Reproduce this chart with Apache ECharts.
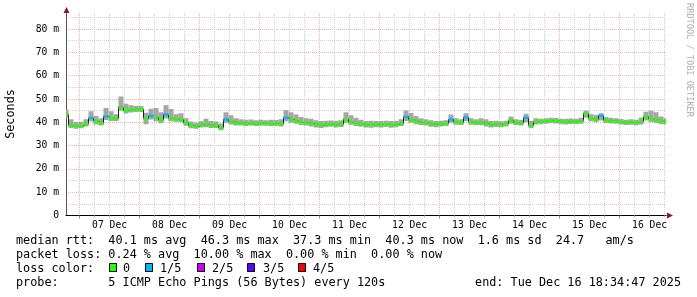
<!DOCTYPE html>
<html><head><meta charset="utf-8">
<script src="https://cdn.jsdelivr.net/npm/echarts@6/dist/echarts.min.js"></script>
<style>html,body{margin:0;padding:0;background:#fff}#c{width:697px;height:297px}</style>
</head><body><div id="c"></div>
<script>
// sample times: hours since Dec 6 00:00, one sample per 2 hours
const startHour = 18.58; // Dec 6 18:34:47
const stepHours = 2;
const medianRtt = [
43.4,38.6,38.4,38.5,39.3,41.8,40.4,39.6,42.5,41.8,41.6,46.4,45.0,45.3,45.5,45.6,41.5,42.7,42.2,41.0,
43.3,41.7,41.3,41.2,39.8,38.6,38.2,38.9,39.0,38.8,38.7,37.6,41.2,40.2,39.7,39.6,39.5,39.6,39.4,39.6,
39.5,39.4,39.5,39.3,42.0,41.2,40.6,40.0,39.8,39.5,39.1,38.8,39.0,39.2,39.0,39.1,41.3,40.0,39.6,39.2,
39.0,38.9,39.1,39.0,39.2,38.9,39.1,39.5,42.4,41.0,40.5,39.9,39.7,39.3,39.1,39.3,39.4,41.2,40.0,39.8,
42.1,40.0,39.8,39.9,39.5,39.0,39.2,39.0,39.3,40.8,39.9,39.6,42.0,38.6,40.2,40.3,40.4,40.7,40.6,40.3,
40.2,40.4,40.3,40.5,43.8,41.6,41.2,42.8,40.8,40.6,40.5,40.1,39.9,40.0,39.8,40.2,42.4,41.4,41.0,40.5,
40.3];
const smokeHigh = [
45.5,41.3,40.1,40.2,41.3,44.7,42.7,41.7,46.1,44.7,43.5,51.1,48.0,47.3,47.1,47.0,44.1,45.8,46.1,44.3,
47.3,45.7,43.5,43.9,41.7,40.3,39.8,40.4,41.5,40.5,40.3,39.5,44.3,43.0,41.7,41.3,41.1,41.2,40.9,41.1,
40.9,41.1,41.0,41.3,45.3,44.3,43.3,42.3,41.7,41.5,40.9,40.5,40.7,40.8,40.7,40.9,44.3,43.0,41.9,41.1,
40.5,40.7,40.6,40.5,40.7,40.5,40.7,41.3,45.1,44.0,42.7,41.7,41.3,40.9,40.5,40.7,40.9,43.3,41.7,41.3,
43.9,41.7,41.3,41.7,41.3,40.5,40.7,40.4,40.7,42.5,41.3,41.0,43.7,40.7,41.7,41.5,41.7,41.9,41.8,41.5,
41.5,41.6,41.5,41.9,45.1,43.5,43.1,43.9,42.3,41.9,41.7,41.4,41.1,41.3,41.1,42.1,44.5,45.0,44.3,42.5,
41.7];
const smokeLow = [
42.0,37.6,37.2,37.4,38.2,40.4,39.1,38.6,41.0,40.6,40.5,45.0,43.8,44.2,44.4,44.4,39.2,41.2,40.4,39.6,
41.6,40.4,40.2,40.1,38.5,37.4,37.2,37.8,37.9,37.6,37.5,36.6,39.8,39.0,38.6,38.6,38.4,38.6,38.4,38.5,
38.5,38.3,38.4,38.2,40.4,39.8,39.4,38.8,38.6,38.2,37.8,37.6,37.9,38.1,37.8,38.0,39.8,38.9,38.4,38.1,
37.8,37.7,37.9,37.8,38.0,37.7,37.9,38.4,40.6,39.8,39.2,38.8,38.6,38.1,37.9,38.2,38.4,39.8,38.9,38.8,
40.4,38.9,38.7,38.8,38.2,37.8,38.0,37.9,38.2,39.4,38.8,38.6,40.0,37.4,39.0,39.2,39.4,39.6,39.5,39.2,
39.1,39.3,39.2,39.4,42.0,40.4,40.1,40.8,39.7,39.5,39.4,39.0,38.8,38.9,38.7,39.1,40.8,40.1,39.7,39.2,
39.1];
// loss level per sample: 0 = no loss, 1 = 1/5 ...
const lossLevel = [
0,0,0,0,0,1,0,0,1,0,0,0,0,0,0,0,0,1,0,0,
1,0,0,0,0,0,0,0,0,0,0,0,1,0,0,0,0,0,0,0,
0,0,0,0,1,0,0,0,0,0,0,0,0,0,0,0,0,0,0,0,
0,0,0,0,0,0,0,0,1,0,0,0,0,0,0,0,0,1,0,0,
1,0,0,0,0,0,0,0,0,0,0,0,1,0,0,0,0,0,0,0,
0,0,0,0,0,0,0,1,0,0,0,0,0,0,0,0,0,0,0,0,
0];
const dayLabels = ['07 Dec','08 Dec','09 Dec','10 Dec','11 Dec','12 Dec','13 Dec','14 Dec','15 Dec','16 Dec'];
const yTickValues = [0,10,20,30,40,50,60,70,80];
const yMinorValues = [5,15,25,35,45,55,65,75,85];
const lossNames = ['0','1/5','2/5','3/5','4/5'];
const lossColors = ['#26ff00','#00b8ff','#d000ff','#6000ff','#ff0000'];
const statLines = [
  'median rtt:  40.1 ms avg  46.3 ms max  37.3 ms min  40.3 ms now  1.6 ms sd  24.7   am/s',
  'packet loss: 0.24 % avg  10.00 % max  0.00 % min  0.00 % now',
  'loss color:'
];
const probeText = 'probe:       5 ICMP Echo Pings (56 Bytes) every 120s';
const endText = 'end: Tue Dec 16 18:34:47 2025';
const yAxisTitle = 'Seconds';
const sideText = 'RRDTOOL / TOBI OETIKER';

const MONO = 'DejaVu Sans Mono';
const times = medianRtt.map((_, i) => startHour + i * stepHours);
const xMin = times[0], xMax = times[times.length - 1];
const minorX = [], majorX = [], labelX = [];
for (let h = 6; h <= xMax; h += 6) {
  if (h < xMin) continue;
  if (h % 24 === 0) majorX.push(h); else minorX.push(h);
  if (h % 24 === 12 && h >= 36) labelX.push(h);
}
const rows = times.map((t, i) => [t, medianRtt[i], smokeHigh[i], smokeLow[i], lossLevel[i]]);

const chart = echarts.init(document.getElementById('c'), null, {renderer: 'canvas'});

const graphics = [];
const lineY = [241, 255, 269];
statLines.forEach((s, i) => graphics.push({type:'text', x:16, y:lineY[i], style:{text:s, font:'11.8px ' + MONO, fill:'#000', verticalAlign:'middle', align:'left'}}));
graphics.push({type:'text', x:16, y:283, style:{text:probeText, font:'11.8px ' + MONO, fill:'#000', verticalAlign:'middle'}});
graphics.push({type:'text', x:681, y:283, style:{text:endText, font:'11.8px ' + MONO, fill:'#000', verticalAlign:'middle', align:'right'}});
const boxX = [109, 145, 197, 247, 298];
const txtX = [123, 160, 212, 263, 313];
lossNames.forEach((n, i) => {
  graphics.push({type:'rect', shape:{x:boxX[i] + 0.5, y:263.5, width:7, height:8}, style:{fill:lossColors[i], stroke:'#000', lineWidth:1}});
  graphics.push({type:'text', x:txtX[i], y:269, style:{text:n, font:'11.8px ' + MONO, fill:'#000', verticalAlign:'middle'}});
});
graphics.push({type:'text', x:11, y:114, rotation:Math.PI/2, style:{text:yAxisTitle, font:'11.8px ' + MONO, fill:'#000', align:'center', verticalAlign:'middle'}});
graphics.push({type:'text', x:689.5, y:60, rotation:-Math.PI/2, style:{text:sideText, font:'8.6px ' + MONO, fill:'#b0b0b0', align:'center', verticalAlign:'middle'}});
graphics.push({type:'polygon', shape:{points:[[66.5,7],[63.5,13],[69.5,13]]}, style:{fill:'#8b1a1a'}});
graphics.push({type:'polygon', shape:{points:[[673,215.5],[667,212.5],[667,218.5]]}, style:{fill:'#8b1a1a'}});

const axisLabelStyle = {fontFamily: MONO, fontSize: 9.7, color: '#000'};
const redGrid = '#eeb4b4', grayGrid = '#d2d2d2';

chart.setOption({
  animation: false,
  backgroundColor: '#fff',
  grid: {left: 66, right: 31, top: 13, bottom: 81.5, containLabel: false},
  xAxis: [
    {type:'value', min:xMin, max:xMax, position:'bottom',
     axisLine:{show:true, onZero:false, lineStyle:{color:'#000', width:1}},
     axisTick:{show:true, customValues:minorX, length:2, lineStyle:{color:'#bbbbbb'}},
     axisLabel:Object.assign({show:true, customValues:labelX, margin:5,
       formatter: v => dayLabels[Math.round((v - 36) / 24)] || ''}, axisLabelStyle),
     splitLine:{show:true, lineStyle:{color:grayGrid, width:1, type:[1,1]}}},
    {type:'value', min:xMin, max:xMax, position:'bottom',
     axisLine:{show:false, onZero:false},
     axisTick:{show:true, customValues:majorX, length:3, lineStyle:{color:'#d87070'}},
     axisLabel:{show:false},
     splitLine:{show:true, lineStyle:{color:redGrid, width:1, type:[1,1]}}}
  ],
  yAxis: [
    {type:'value', min:0, max:86.9,
     axisLine:{show:true, onZero:false, lineStyle:{color:'#555', width:1}},
     axisTick:{show:false, customValues:yTickValues.slice(1)},
     axisLabel:Object.assign({show:true, customValues:yTickValues, margin:7,
       formatter: v => v === 0 ? '0' : v + ' m'}, axisLabelStyle),
     splitLine:{show:true, lineStyle:{color:redGrid, width:1, type:[1,1]}}},
    {type:'value', min:0, max:86.9,
     axisLine:{show:false, onZero:false},
     axisTick:{show:false, customValues:yMinorValues},
     axisLabel:{show:false},
     splitLine:{show:true, lineStyle:{color:grayGrid, width:1, type:[1,1]}}}
  ],
  series: [
    {type:'custom', name:'smoke', clip:true, z:2, data:rows,
     encode:{x:0, y:[2,3]},
     renderItem: function (params, api) {
       const t = api.value(0);
       const p1 = api.coord([t - stepHours / 2, api.value(2)]);
       const p2 = api.coord([t + stepHours / 2, api.value(3)]);
       return {type:'rect', shape:{x:p1[0], y:p1[1], width:p2[0] - p1[0], height:p2[1] - p1[1]}, style:{fill:'#a6a6a6'}};
     }},
    {type:'line', name:'median', step:'middle', symbol:'none', z:3, clip:true,
     data: rows.map(r => [r[0], r[1]]),
     lineStyle:{color:'#222', width:1}},
    {type:'custom', name:'loss', clip:true, z:4, data:rows,
     encode:{x:0, y:1},
     renderItem: function (params, api) {
       const t = api.value(0);
       const p1 = api.coord([t - stepHours / 2, api.value(1)]);
       const p2 = api.coord([t + stepHours / 2, api.value(1)]);
       return {type:'rect', shape:{x:p1[0], y:p1[1] - 1.25, width:p2[0] - p1[0], height:2.5}, style:{fill:lossColors[api.value(4)]}};
     }}
  ],
  graphic: graphics
});
</script></body></html>
